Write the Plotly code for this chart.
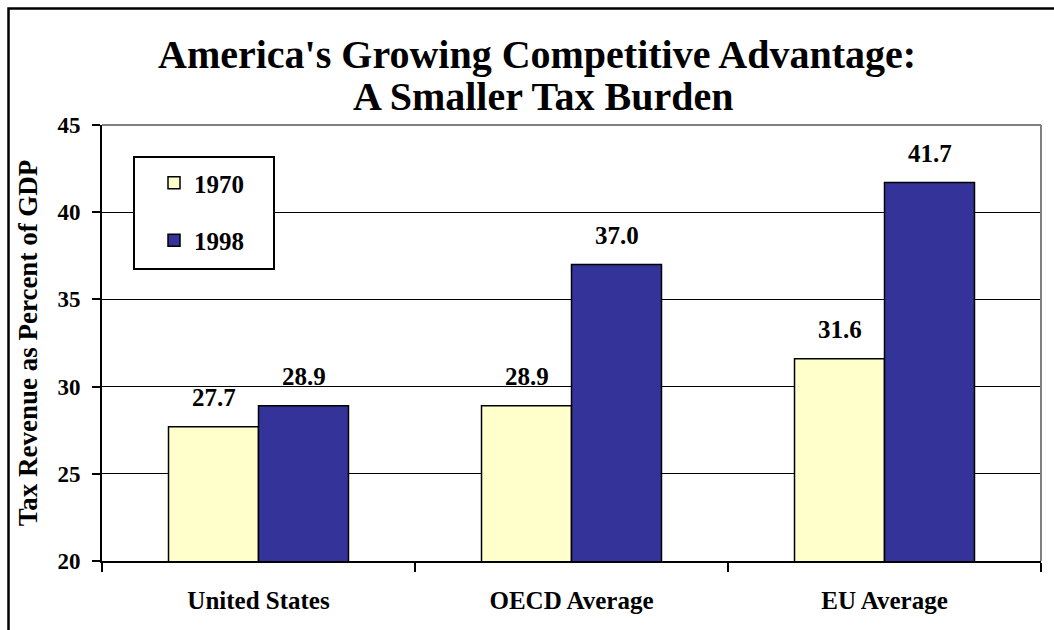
import plotly.graph_objects as go

categories = ["United States", "OECD Average", "EU Average"]
series_names = ["1970", "1998"]
values_1970 = [27.7, 28.9, 31.6]
values_1998 = [28.9, 37.0, 41.7]
y_ticks = [20, 25, 30, 35, 40, 45]

FONT = "'Times New Roman', 'Liberation Serif', Times, serif"
fill_1970 = "#FFFFCC"
fill_1998 = "#333399"

W, H = 1054, 630
ML, MR, MT, MB = 102, 13, 125, 69
PW, PH = W - ML - MR, H - MT - MB


def px_x(px):
    return (px - ML) / PW


def px_y(py):
    return (H - MB - py) / PH


fig = go.Figure()
for name, vals, col in [(series_names[0], values_1970, fill_1970),
                        (series_names[1], values_1998, fill_1998)]:
    fig.add_trace(go.Bar(
        x=categories, y=vals, name=f"<b>{name}</b>", legendgroup=name,
        marker=dict(color=col, line=dict(color="black", width=1.5)),
    ))

# value labels
for i, cat in enumerate(categories):
    for vals, shift in [(values_1970, -45), (values_1998, 45)]:
        fig.add_annotation(
            x=cat, y=vals[i], xref="x", yref="y", xshift=shift, yshift=14,
            text=f"<b>{vals[i]:.1f}</b>", showarrow=False, yanchor="bottom",
            font=dict(family=FONT, size=25, color="black"),
        )

# title lines
fig.add_annotation(x=px_x(537), y=px_y(55), xref="paper", yref="paper",
                   showarrow=False, xanchor="center", yanchor="middle",
                   text="<b>America's Growing Competitive Advantage:</b>",
                   font=dict(family=FONT, size=40, color="black"))
fig.add_annotation(x=px_x(543), y=px_y(97), xref="paper", yref="paper",
                   showarrow=False, xanchor="center", yanchor="middle",
                   text="<b>A Smaller Tax Burden</b>",
                   font=dict(family=FONT, size=40, color="black"))

fig.update_layout(
    width=W, height=H,
    margin=dict(l=ML, r=MR, t=MT, b=MB),
    paper_bgcolor="white", plot_bgcolor="white",
    barmode="group", bargap=0.425, bargroupgap=0,
    showlegend=True,
    legend=dict(
        x=px_x(154), y=px_y(160), xanchor="left", yanchor="top",
        bgcolor="rgba(0,0,0,0)", borderwidth=0,
        font=dict(family=FONT, size=25, color="black"),
        tracegroupgap=22, itemwidth=30,
    ),
    xaxis=dict(
        showline=True, linecolor="black", linewidth=2,
        ticks="outside", tickson="boundaries", ticklen=9, tickwidth=2, tickcolor="black",
        tickfont=dict(family=FONT, size=25, color="black"),
        tickprefix="<b>", ticksuffix="</b>", ticklabelstandoff=16,
        showgrid=False,
    ),
    yaxis=dict(
        range=[20, 45], tickvals=y_ticks, ticktext=[f"<b>{t}</b>" for t in y_ticks],
        showline=True, linecolor="black", linewidth=2,
        ticks="outside", ticklen=8, tickwidth=2, tickcolor="black",
        tickfont=dict(family=FONT, size=23, color="black"),
        ticklabelstandoff=7,
        showgrid=True, gridcolor="black", gridwidth=1,
        title=dict(text="<b>Tax Revenue as Percent of GDP</b>",
                   font=dict(family=FONT, size=27, color="black"), standoff=12),
    ),
    shapes=[
        dict(type="line", xref="paper", yref="paper", x0=0, x1=1, y0=1, y1=1,
             line=dict(color="#808080", width=2), layer="above"),
        dict(type="line", xref="paper", yref="paper", x0=1, x1=1, y0=0, y1=1,
             line=dict(color="#808080", width=2), layer="above"),
        # legend box
        dict(type="rect", xref="paper", yref="paper",
             x0=px_x(134), x1=px_x(274), y0=px_y(269), y1=px_y(157),
             line=dict(color="black", width=2), fillcolor="white", layer="above"),
        # outer chart frame
        dict(type="rect", xref="paper", yref="paper",
             x0=px_x(8.5), x1=1.2, y0=-0.5, y1=px_y(8.5),
             line=dict(color="black", width=2.5), fillcolor="rgba(0,0,0,0)", layer="above"),
    ],
)

fig.write_html("out.html")
